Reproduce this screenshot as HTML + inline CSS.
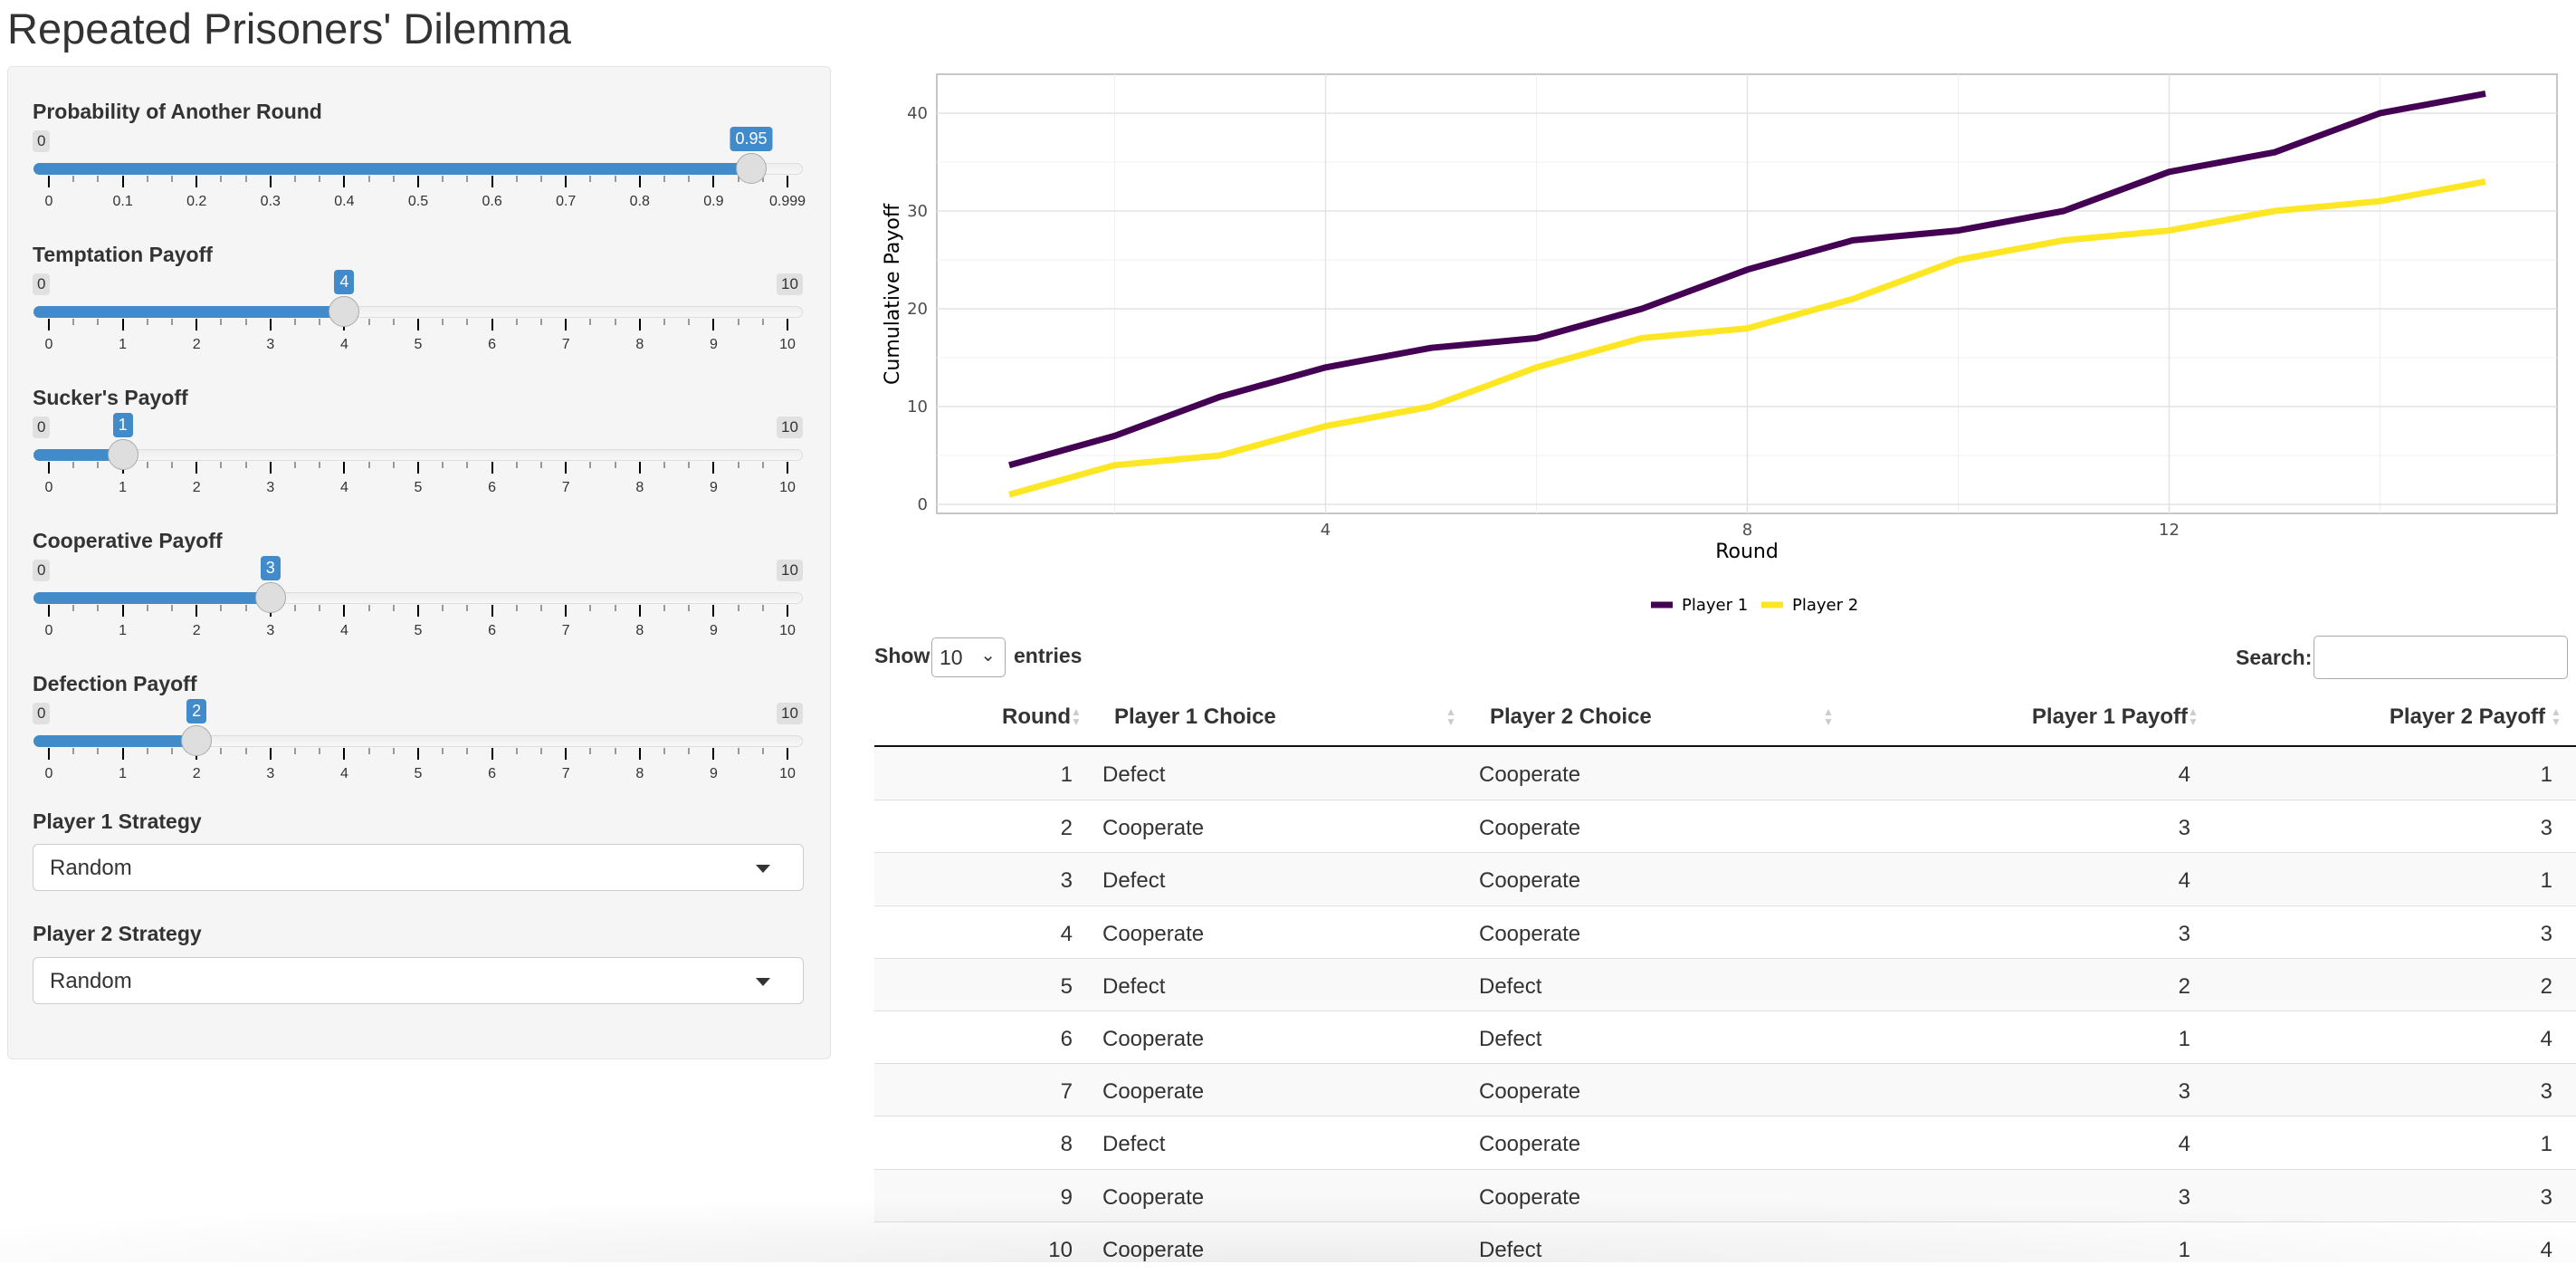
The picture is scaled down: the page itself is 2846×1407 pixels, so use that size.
<!DOCTYPE html>
<html><head><meta charset="utf-8">
<style>
*{box-sizing:border-box}
body{margin:0;width:2846px;height:1394px;overflow:hidden;background:#fff;font-family:"Liberation Sans",sans-serif;color:#333;position:relative}
.abs{position:absolute}
.lbl{position:absolute;left:36px;font-weight:bold;font-size:23px;color:#333}
.mm{position:absolute;background:#e0e0e0;border-radius:4px;font-size:17px;padding:2px 5px;color:#333}
.val{position:absolute;background:#428bca;border-radius:4px;font-size:18px;padding:3px 6px;color:#fff;transform:translateX(-50%)}
.track{position:absolute;left:37px;width:850px;height:13px;border-radius:7px;background:linear-gradient(#eee,#f7f7f7);border:1px solid #ddd}
.fill{position:absolute;left:37px;height:13px;border-radius:7px 0 0 7px;background:#428bca}
.handle{position:absolute;width:34px;height:34px;border-radius:50%;background:#dedede;border:1px solid #aaa;transform:translateX(-50%)}
.tick{position:absolute;width:2px;background:#000}
.gl{position:absolute;font-size:16px;color:#333;transform:translateX(-50%)}
.sel{position:absolute;left:36px;width:852px;height:52px;background:#fff;border:1px solid #ccc;border-radius:6px;font-size:24px;padding:12px 18px}
.sel:after{content:"";position:absolute;right:36px;top:22px;border-left:8px solid transparent;border-right:8px solid transparent;border-top:9px solid #333}
.row{position:absolute;left:966px;width:1880px;height:58px;border-top:1px solid #ddd}
.cell{position:absolute;top:17px;font-size:24px;color:#333}
.hd{position:absolute;top:778px;font-size:24px;font-weight:bold;color:#333}
.sort{position:absolute;top:781px;color:#ccc;font-size:12px;line-height:11px}
</style></head><body>
<div class="abs" style="left:8px;top:4px;font-size:47px;color:#333">Repeated Prisoners' Dilemma</div>
<div class="abs" style="left:8px;top:73px;width:910px;height:1097px;background:#f5f5f5;border:1px solid #e3e3e3;border-radius:6px"></div>
<div id="sliders"></div>
<div class="lbl" style="top:894px">Player 1 Strategy</div>
<div class="sel" style="top:932px">Random</div>
<div class="lbl" style="top:1018px">Player 2 Strategy</div>
<div class="sel" style="top:1057px">Random</div>

<svg class="abs" style="left:0;top:0" width="2846" height="700" id="chart"></svg>

<div class="abs" style="left:966px;top:711px;font-size:23px;font-weight:bold">Show</div>
<div class="abs" style="left:1029px;top:704px;width:82px;height:44px;border:1px solid #aaa;border-radius:5px;background:#fff;font-size:23px;padding:8px 8px">10 <span style="position:absolute;right:10px;top:6px;font-size:20px">&#8964;</span></div>
<div class="abs" style="left:1120px;top:711px;font-size:23px;font-weight:bold">entries</div>
<div class="abs" style="left:2470px;top:713px;font-size:23px;font-weight:bold">Search:</div>
<div class="abs" style="left:2556px;top:702px;width:281px;height:48px;border:1px solid #aaa;border-radius:5px;background:#fff"></div>

<div id="table"></div>
<div class="abs" style="left:0;top:1320px;width:2846px;height:74px;background:radial-gradient(ellipse 60% 100% at 50% 100%,rgba(0,0,0,0.07),rgba(0,0,0,0))"></div>

<script>
// ---- sliders ----
const sliderNames=["Probability of Another Round","Temptation Payoff","Sucker's Payoff","Cooperative Payoff","Defection Payoff"];
const sliderValues=[0.95,4,1,3,2];
const sliderMax=[0.999,10,10,10,10];
const sc=document.getElementById('sliders');
sliderNames.forEach((n,i)=>{
  const top=110+i*158, ty=180+i*158;
  const x0=54,x1=870,mx=sliderMax[i];
  const px=v=>x0+(v/mx)*(x1-x0);
  let h='';
  h+=`<div class="lbl" style="top:${top}px">${n}</div>`;
  h+=`<div class="mm" style="left:36px;top:${ty-36}px">0</div>`;
  if(i>0)h+=`<div class="mm" style="left:858px;top:${ty-36}px">10</div>`;
  h+=`<div class="track" style="top:${ty}px"></div>`;
  h+=`<div class="fill" style="top:${ty}px;width:${px(sliderValues[i])-37}px"></div>`;
  for(let k=0;k<=30;k++){
    const x=x0+k*(x1-x0)/30, major=k%3==0;
    h+=`<div class="tick" style="left:${x-1}px;top:${ty+14}px;height:${major?13:7}px;${major?'':'background:#999'}"></div>`;
    if(major){const lab=i==0?(k==30?'0.999':(k/30).toFixed(1)):String(k/3);
      h+=`<div class="gl" style="left:${x}px;top:${ty+34}px">${lab=='0.0'?'0':lab}</div>`;}
  }
  h+=`<div class="val" style="left:${px(sliderValues[i])}px;top:${ty-40}px">${sliderValues[i]}</div>`;
  h+=`<div class="handle" style="left:${px(sliderValues[i])}px;top:${ty-11}px"></div>`;
  sc.insertAdjacentHTML('beforeend',h);
});

// ---- chart ----
const rounds=[1,2,3,4,5,6,7,8,9,10,11,12,13,14,15];
const player1=[4,7,11,14,16,17,20,24,27,28,30,34,36,40,42];
const player2=[1,4,5,8,10,14,17,18,21,25,27,28,30,31,33];
const xTicks=[4,8,12];
const yTicks=[0,10,20,30,40];
const NS='http://www.w3.org/2000/svg';
const svg=document.getElementById('chart');
const L=1035,R=2825,T=82,B=567;
const xs=v=>1115+(v-1)*(2746-1115)/14;
const ys=v=>557-v*(557-125)/40;
function el(t,a,txt){const e=document.createElementNS(NS,t);for(const k in a)e.setAttribute(k,a[k]);if(txt!==undefined)e.textContent=txt;svg.appendChild(e);return e;}
let e=el('rect',{x:L,y:T,width:R-L,height:B-T,fill:'#fff',stroke:'#b3b3b3','stroke-width':1.5});

[2,6,10,14].forEach(v=>{const g=el('line',{x1:xs(v),x2:xs(v),y1:T,y2:B,stroke:'#f0f0f0','stroke-width':1});});
[5,15,25,35].forEach(v=>{const g=el('line',{x1:L,x2:R,y1:ys(v),y2:ys(v),stroke:'#f0f0f0','stroke-width':1});});
xTicks.forEach(v=>{const g=el('line',{x1:xs(v),x2:xs(v),y1:T,y2:B,stroke:'#e3e3e3','stroke-width':1.5});
 const t=el('text',{x:xs(v),y:591,'text-anchor':'middle','font-size':18,fill:'#4d4d4d','font-family':'DejaVu Sans, sans-serif'},v);});
yTicks.forEach(v=>{const g=el('line',{x1:L,x2:R,y1:ys(v),y2:ys(v),stroke:'#e3e3e3','stroke-width':1.5});
 const t=el('text',{x:1025,y:ys(v)+6,'text-anchor':'end','font-size':18,fill:'#4d4d4d','font-family':'DejaVu Sans, sans-serif'},v);});
function line(data,color,name){const p=el('polyline',{points:rounds.map((r,i)=>xs(r)+','+ys(data[i])).join(' '),fill:'none',stroke:color,'stroke-width':7,'stroke-linejoin':'round'});
 }
line(player1,'#440154','player1-line');
line(player2,'#fde725','player2-line');
e=el('text',{x:1930,y:616,'text-anchor':'middle','font-size':22,fill:'#000','font-family':'DejaVu Sans, sans-serif'},'Round');
e=el('text',{x:0,y:0,transform:'translate(993,325) rotate(-90)','text-anchor':'middle','font-size':22,fill:'#000','font-family':'DejaVu Sans, sans-serif'},'Cumulative Payoff');
e=el('line',{x1:1824,x2:1848,y1:668,y2:668,stroke:'#440154','stroke-width':7});
e=el('text',{x:1858,y:674,'font-size':18,fill:'#000','font-family':'DejaVu Sans, sans-serif'},'Player 1');
e=el('line',{x1:1946,x2:1970,y1:668,y2:668,stroke:'#fde725','stroke-width':7});
e=el('text',{x:1980,y:674,'font-size':18,fill:'#000','font-family':'DejaVu Sans, sans-serif'},'Player 2');

// ---- table ----
const p1Choice=["Defect","Cooperate","Defect","Cooperate","Defect","Cooperate","Cooperate","Defect","Cooperate","Cooperate"];
const p2Choice=["Cooperate","Cooperate","Cooperate","Cooperate","Defect","Defect","Cooperate","Cooperate","Cooperate","Defect"];
const p1Pay=[4,3,4,3,2,1,3,4,3,1];
const p2Pay=[1,3,1,3,2,4,3,1,3,4];
const tb=document.getElementById('table');
let h='';
const heads=[["Round",null,1183,1189],["Player 1 Choice",1231,null,1603],["Player 2 Choice",1646,null,2020],["Player 1 Payoff",null,2417,2423],["Player 2 Payoff",null,2812,2824]];
heads.forEach((c,i)=>{
  h+=`<div class="hd" style="${c[1]?'left:'+c[1]+'px':'right:'+(2846-c[2])+'px'}">${c[0]}</div>`;
  h+=`<div class="sort" style="left:${c[3]-6}px">&#9650;<br>&#9660;</div>`;
});
h+=`<div class="abs" style="left:966px;top:823px;width:1880px;height:2px;background:#111"></div>`;
for(let i=0;i<10;i++){
  const top=825+i*58.2;
  h+=`<div class="row" style="top:${top}px;${i==0?'border-top:none;':''}background:${i%2==0?'#f9f9f9':'#fff'}">`;
  h+=`<div class="cell" style="right:1661px">${i+1}</div>`;
  h+=`<div class="cell" style="left:252px">${p1Choice[i]}</div>`;
  h+=`<div class="cell" style="left:668px">${p2Choice[i]}</div>`;
  h+=`<div class="cell" style="right:426px">${p1Pay[i]}</div>`;
  h+=`<div class="cell" style="right:26px">${p2Pay[i]}</div>`;
  h+=`</div>`;
}
tb.innerHTML=h;
</script>
</body></html>
